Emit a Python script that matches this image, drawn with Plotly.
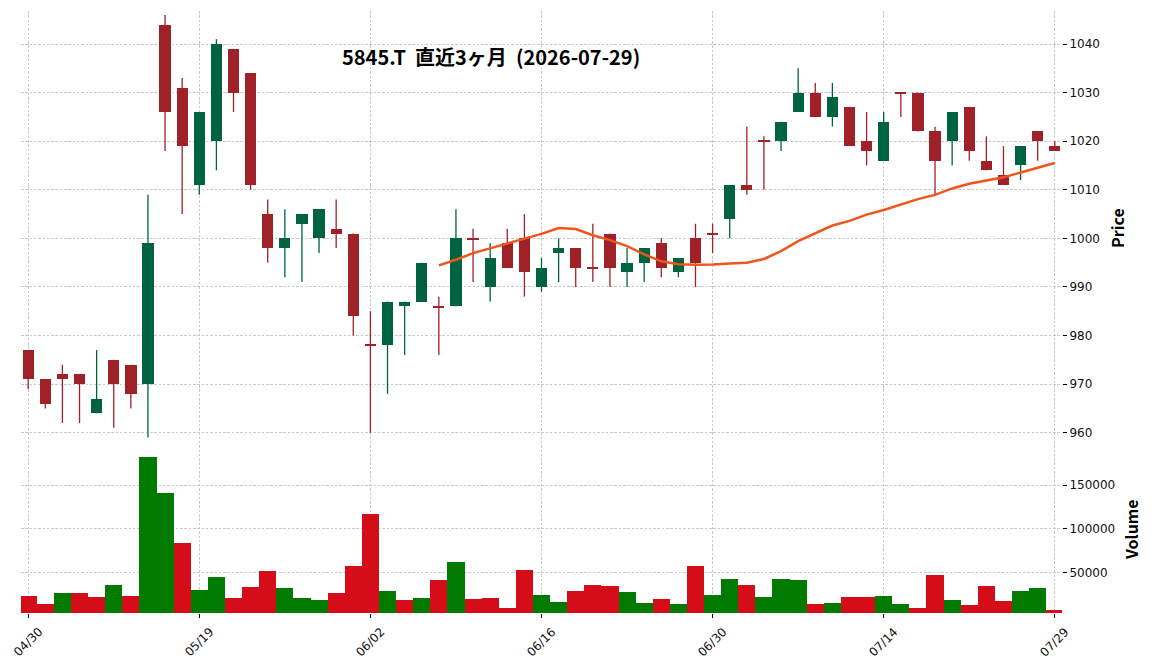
import plotly.graph_objects as go
import pandas as pd

dates = ["04/30", "05/01", "05/07", "05/08", "05/11", "05/12", "05/13", "05/14", "05/15", "05/18",
         "05/19", "05/20", "05/21", "05/22", "05/25", "05/26", "05/27", "05/28", "05/29", "06/01",
         "06/02", "06/03", "06/04", "06/05", "06/08", "06/09", "06/10", "06/11", "06/12", "06/15",
         "06/16", "06/17", "06/18", "06/19", "06/22", "06/23", "06/24", "06/25", "06/26", "06/29",
         "06/30", "07/01", "07/02", "07/03", "07/06", "07/07", "07/08", "07/09", "07/10", "07/13",
         "07/14", "07/15", "07/16", "07/17", "07/21", "07/22", "07/23", "07/24", "07/27", "07/28",
         "07/29"]

opens = [977, 971, 972, 972, 964, 975, 974, 970, 1044, 1031,
         1011, 1020, 1039, 1034, 1005, 998, 1003, 1000, 1002, 1001,
         978, 978, 986, 987, 986, 986, 1000, 990, 999, 1000,
         990, 997, 998, 994, 1001, 993, 995, 999, 993, 1000,
         1001, 1004, 1011, 1020, 1020, 1026, 1030, 1025, 1027, 1020,
         1016, 1030, 1030, 1022, 1020, 1027, 1016, 1013, 1015, 1022,
         1019]
highs = [977, 971, 974, 972, 977, 975, 974, 1009, 1046, 1033,
         1026, 1041, 1039, 1034, 1008, 1006, 1005, 1006, 1008, 1001,
         985, 987, 987, 995, 988, 1006, 1002, 999, 1002, 1005,
         996, 1000, 998, 1003, 1001, 998, 998, 1000, 996, 1003,
         1003, 1011, 1023, 1021, 1024, 1035, 1032, 1032, 1027, 1026,
         1026, 1030, 1030, 1023, 1026, 1027, 1021, 1019, 1019, 1022,
         1020]
lows = [969, 965, 962, 962, 964, 961, 965, 959, 1018, 1005,
        1009, 1014, 1026, 1010, 995, 992, 991, 997, 998, 980,
        960, 968, 976, 987, 976, 986, 991, 987, 994, 988,
        989, 991, 990, 991, 990, 990, 991, 992, 992, 990,
        997, 1000, 1009, 1010, 1018, 1026, 1025, 1023, 1019, 1015,
        1016, 1025, 1022, 1009, 1015, 1016, 1014, 1011, 1012, 1016,
        1018]
closes = [971, 966, 971, 970, 967, 970, 968, 999, 1026, 1019,
          1026, 1040, 1030, 1011, 998, 1000, 1005, 1006, 1001, 984,
          978, 987, 987, 995, 986, 1000, 1000, 996, 994, 993,
          994, 998, 994, 994, 994, 995, 998, 994, 996, 995,
          1001, 1011, 1010, 1020, 1024, 1030, 1025, 1029, 1019, 1018,
          1024, 1030, 1022, 1016, 1026, 1018, 1014, 1011, 1019, 1020,
          1018]
volumes = [22800, 13600, 26200, 26200, 21700, 35400, 22800, 182600, 141200, 83700,
           29700, 44600, 20500, 33100, 51500, 32000, 20500, 18200, 26200, 57300,
           117000, 28500, 18200, 20500, 41200, 61900, 19400, 20500, 9000, 52700,
           23900, 15900, 28500, 35400, 34300, 27400, 14800, 19400, 13600, 57300,
           23900, 42300, 35400, 21700, 42300, 41200, 13600, 14800, 21700, 21700,
           22800, 13600, 9000, 46900, 18200, 12500, 34300, 17100, 28500, 32000,
           6700]
tick_labels = ["04/30", "05/19", "06/02", "06/16", "06/30", "07/14", "07/29"]
price_ticks = [960, 970, 980, 990, 1000, 1010, 1020, 1030, 1040]
volume_ticks = [50000, 100000, 150000]
title_text = "5845.T\u00a0\u00a0直近3ヶ月\u00a0\u00a0(2026-07-29)"
mav_window = 25

UP, DOWN = "#006340", "#A02128"
VUP, VDOWN = "#007a00", "#d50d18"
MA_COLOR = "#f0561c"
GRID = "#c8c8c8"
GDASH = "2.5px,1.8px"

n = len(closes)
xs = list(range(n))

up_idx = [i for i in xs if closes[i] > opens[i]]
dn_idx = [i for i in xs if closes[i] <= opens[i]]

fig = go.Figure()

def add_candles(idx, color):
    wx, wy = [], []
    for i in idx:
        wx += [i, i, None]
        wy += [lows[i], highs[i], None]
    fig.add_trace(go.Scatter(x=wx, y=wy, mode="lines", line=dict(color=color, width=1.3),
                             hoverinfo="skip", showlegend=False, xaxis="x2", yaxis="y2"))
    base = [min(opens[i], closes[i]) for i in idx]
    height = [max(abs(closes[i] - opens[i]), 0.3) for i in idx]
    base = [b - 0.15 if h == 0.3 else b for b, h in zip(base, height)]
    fig.add_trace(go.Bar(x=idx, y=height, base=base, width=0.66,
                         marker=dict(color=color, line=dict(width=0)),
                         showlegend=False, xaxis="x2", yaxis="y2"))

add_candles(up_idx, UP)
add_candles(dn_idx, DOWN)

ma = pd.Series(closes).rolling(mav_window).mean()
fig.add_trace(go.Scatter(x=xs[mav_window - 1:], y=list(ma[mav_window - 1:]), mode="lines",
                         line=dict(color=MA_COLOR, width=2.5), showlegend=False,
                         xaxis="x2", yaxis="y2"))

vcolors = []
for i in xs:
    if i == 0:
        vcolors.append(VUP if closes[0] > opens[0] else VDOWN)
    else:
        vcolors.append(VUP if closes[i] > closes[i - 1] else VDOWN)
fig.add_trace(go.Bar(x=xs, y=volumes, width=1.0,
                     marker=dict(color=vcolors, line=dict(width=0)),
                     showlegend=False, xaxis="x", yaxis="y"))

tick_vals = [dates.index(t) for t in tick_labels]
xr = [-0.42, n - 1 + 0.42]
tickfont = dict(family="DejaVu Sans", size=12, color="#111111")
grid = dict(showgrid=True, gridcolor=GRID, griddash=GDASH, gridwidth=0.8,
            zeroline=False, showline=False, automargin=False)

annotations = [
    dict(text=title_text, xref="paper", yref="paper", x=0.4515, y=0.925,
         xanchor="center", yanchor="middle", showarrow=False,
         font=dict(family="Noto Sans CJK JP", size=20, color="black", weight="bold")),
    dict(text="Price", xref="paper", yref="paper", x=1.0528, y=0.6395,
         xanchor="center", yanchor="middle", showarrow=False, textangle=-90,
         font=dict(family="Noto Sans CJK JP", size=16, color="black", weight="bold")),
    dict(text="Volume", xref="paper", yref="paper", x=1.0663, y=0.1379,
         xanchor="center", yanchor="middle", showarrow=False, textangle=-90,
         font=dict(family="Noto Sans CJK JP", size=16, color="black", weight="bold")),
]
for tv, tl in zip(tick_vals, tick_labels):
    annotations.append(dict(text=tl, xref="x", yref="paper", x=tv, y=-0.0482,
                            xanchor="center", yanchor="middle", showarrow=False,
                            textangle=-45, font=tickfont))

fig.update_layout(
    width=1152, height=670,
    margin=dict(l=21, r=90, t=11, b=57),
    paper_bgcolor="white", plot_bgcolor="white",
    bargap=0, barmode="overlay",
    xaxis=dict(domain=[0, 1], range=xr, tickvals=tick_vals, showticklabels=False,
               ticks="outside", ticklen=4, tickcolor="black", anchor="y", **grid),
    yaxis=dict(domain=[0, 0.2858], range=[3350, 200800], side="right",
               tickvals=volume_ticks, tickformat="d", ticks="outside", ticklen=4,
               tickcolor="black", tickfont=tickfont, anchor="x", **grid),
    xaxis2=dict(domain=[0, 1], range=xr, tickvals=tick_vals, showticklabels=False,
                ticks="", anchor="y2", matches="x", **grid),
    yaxis2=dict(domain=[0.2874, 1], range=[958.5, 1046.8], side="right",
                tickvals=price_ticks, ticks="outside", ticklen=4, tickcolor="black",
                tickfont=tickfont, anchor="x2", **grid),
    annotations=annotations,
)

fig.write_html("out.html")
